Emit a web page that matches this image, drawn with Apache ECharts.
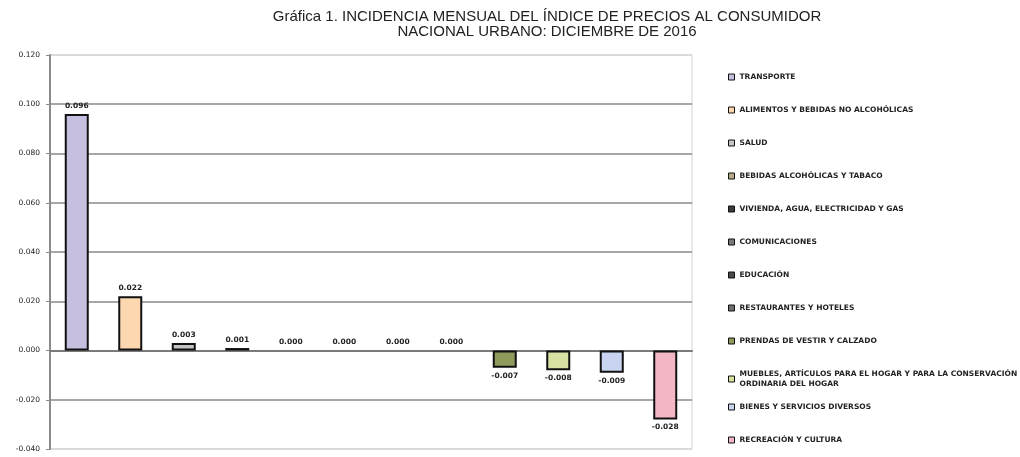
<!DOCTYPE html>
<html>
<head>
<meta charset="utf-8">
<script src="https://cdn.jsdelivr.net/npm/echarts@6/dist/echarts.min.js"></script>
<style>
  html, body { margin: 0; padding: 0; background: #fff; }
  #chart { width: 1020px; height: 457px; }
</style>
</head>
<body>
<div id="chart"></div>
<script>
// Incidencia mensual por grupo de gasto, diciembre de 2016
const categories = [
  'TRANSPORTE',
  'ALIMENTOS Y BEBIDAS NO ALCOHÓLICAS',
  'SALUD',
  'BEBIDAS ALCOHÓLICAS Y TABACO',
  'VIVIENDA, AGUA, ELECTRICIDAD Y GAS',
  'COMUNICACIONES',
  'EDUCACIÓN',
  'RESTAURANTES Y HOTELES',
  'PRENDAS DE VESTIR Y CALZADO',
  'MUEBLES, ARTÍCULOS PARA EL HOGAR Y PARA LA CONSERVACIÓN\nORDINARIA DEL HOGAR',
  'BIENES Y SERVICIOS DIVERSOS',
  'RECREACIÓN Y CULTURA'
];
const values = [0.096, 0.022, 0.003, 0.001, 0.000, 0.000, 0.000, 0.000, -0.007, -0.008, -0.009, -0.028];
const colors = ['#c6bfe0', '#fdd7b0', '#c4c4c4', '#b8ab8a', '#3a3a3a', '#7a7a7a',
                '#4a4a4a', '#6e6e6e', '#8e9b5c', '#d9e1a2', '#c9d5f0', '#f2b6c5'];
const yTicks = { min: -0.04, max: 0.12, interval: 0.02 };

const chart = echarts.init(document.getElementById('chart'), null, { renderer: 'canvas' });

// one series per group, stacked so each bar sits in its own slot
const series = categories.map((name, i) => ({
  name: name,
  type: 'bar',
  stack: 'g',
  barWidth: 24,
  data: values.map((v, j) => (j === i ? v : null)),
  itemStyle: {
    color: colors[i],
    borderColor: '#111',
    borderWidth: values[i] === 0 ? 0 : 2
  },
  label: {
    show: true,
    position: values[i] < 0 ? 'bottom' : 'top',
    distance: 4,
    fontFamily: 'DejaVu Sans',
    fontSize: 7.5,
    fontWeight: 'bold',
    color: '#222',
    formatter: p => p.value.toFixed(3)
  },
  emphasis: { disabled: true }
}));

const legendText = {
  fontFamily: 'DejaVu Sans',
  fontSize: 7.5,
  fontWeight: 'bold',
  color: '#222',
  lineHeight: 10
};

chart.setOption({
  animation: false,
  backgroundColor: '#fff',
  title: {
    text: 'Gráfica 1. INCIDENCIA MENSUAL DEL ÍNDICE DE PRECIOS AL CONSUMIDOR\nNACIONAL URBANO: DICIEMBRE DE 2016',
    left: 542,
    top: 4,
    textAlign: 'center',
    textStyle: {
      fontFamily: 'Liberation Sans',
      fontSize: 15,
      fontWeight: 'normal',
      color: '#222',
      lineHeight: 15,
      align: 'center'
    }
  },
  legend: [
    {
      orient: 'vertical',
      left: 723,
      top: 67,
      itemWidth: 6,
      itemHeight: 6,
      itemGap: 23,
      icon: 'rect',
      selectedMode: false,
      data: categories.slice(0, 10),
      itemStyle: { borderColor: '#111', borderWidth: 1 },
      textStyle: legendText
    },
    {
      orient: 'vertical',
      left: 723,
      top: 397,
      itemWidth: 6,
      itemHeight: 6,
      itemGap: 23,
      icon: 'rect',
      selectedMode: false,
      data: categories.slice(10),
      itemStyle: { borderColor: '#111', borderWidth: 1 },
      textStyle: legendText
    }
  ],
  grid: {
    left: 50,
    right: 328,
    top: 55,
    bottom: 8,
    show: true,
    borderColor: '#d4d4d4',
    borderWidth: 1
  },
  xAxis: {
    type: 'category',
    data: categories,
    axisLine: { onZero: true, lineStyle: { color: '#7a7a7a', width: 2 } },
    axisTick: { show: false },
    axisLabel: { show: false },
    splitLine: { show: false }
  },
  yAxis: {
    type: 'value',
    min: yTicks.min,
    max: yTicks.max,
    interval: yTicks.interval,
    axisLine: { show: true, lineStyle: { color: '#8a8a8a', width: 2 } },
    axisTick: { show: true, length: 4, lineStyle: { color: '#8a8a8a' } },
    axisLabel: {
      fontFamily: 'DejaVu Sans',
      fontSize: 7.5,
      color: '#222',
      margin: 10,
      formatter: v => v.toFixed(3)
    },
    splitLine: {
      show: true,
      lineStyle: {
        color: ['#d4d4d4', '#8a8a8a', '#8a8a8a', '#8a8a8a', '#8a8a8a', '#8a8a8a', '#8a8a8a', '#8a8a8a', '#d4d4d4'],
        width: 1.5
      }
    }
  },
  series: series
});
</script>
</body>
</html>
